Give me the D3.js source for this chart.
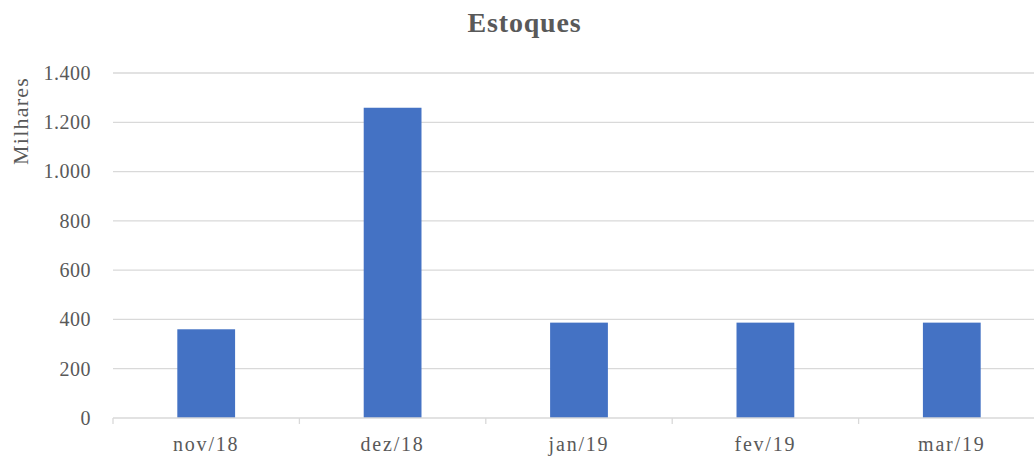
<!DOCTYPE html>
<html>
<head>
<meta charset="utf-8">
<script src="https://cdn.jsdelivr.net/npm/d3@7"></script>
<style>
  html, body { margin: 0; padding: 0; background: #fff; overflow: hidden; }
  svg { display: block; }
</style>
</head>
<body>
<svg id="chart" width="1034" height="457"></svg>
<script>
const categories = ["nov/18", "dez/18", "jan/19", "fev/19", "mar/19"];
const values = [360, 1259, 387, 387, 387];
const yTicks = [0, 200, 400, 600, 800, 1000, 1200, 1400];
const title = "Estoques";
const yAxisTitle = "Milhares";

(function () {
const svg = d3.select("#chart");
const font = "'Liberation Serif', 'DejaVu Serif', serif";
const textColor = "#595959";
const gridColor = "#d9d9d9";

const pLeft = 113, pRight = 1045, pTop = 73, pBottom = 418;

const x = d3.scaleBand().domain(categories).range([pLeft, pRight])
  .paddingInner(0.69).paddingOuter(0.345);
const y = d3.scaleLinear().domain([0, 1400]).range([pBottom, pTop]);

const fmt = v => d3.format(",")(v).replace(/,/g, ".");

// gridlines
svg.append("g").selectAll("line").data(yTicks.filter(t => t > 0)).join("line")
  .attr("x1", pLeft).attr("x2", pRight)
  .attr("y1", d => y(d)).attr("y2", d => y(d))
  .attr("stroke", gridColor).attr("stroke-width", 1.3);

// y labels
svg.append("g").selectAll("text").data(yTicks).join("text")
  .attr("x", 91).attr("y", d => y(d)).attr("dy", "0.34em")
  .attr("text-anchor", "end")
  .attr("font-family", font).attr("font-size", 20).attr("fill", textColor)
  .attr("letter-spacing", 0.5)
  .text(d => fmt(d));

// bars
svg.append("g").selectAll("rect").data(values).join("rect")
  .attr("x", (d, i) => x(categories[i]))
  .attr("width", x.bandwidth())
  .attr("y", d => y(d))
  .attr("height", d => y(0) - y(d))
  .attr("fill", "#4472C4");

// x axis
const xAxis = svg.append("g");
xAxis.append("line").attr("x1", pLeft).attr("x2", pRight)
  .attr("y1", pBottom).attr("y2", pBottom)
  .attr("stroke", gridColor).attr("stroke-width", 1.3);
const bounds = categories.map(c => x(c) - x.step() * x.paddingInner() / 2);
bounds.push(pRight);
xAxis.selectAll("line.tick").data(bounds).join("line").attr("class", "tick")
  .attr("x1", d => d).attr("x2", d => d)
  .attr("y1", pBottom).attr("y2", pBottom + 6)
  .attr("stroke", gridColor).attr("stroke-width", 1.3);
xAxis.selectAll("text").data(categories).join("text")
  .attr("x", d => x(d) + x.bandwidth() / 2).attr("y", 451)
  .attr("text-anchor", "middle")
  .attr("font-family", font).attr("font-size", 20).attr("fill", textColor)
  .attr("letter-spacing", 1.8)
  .text(d => d);

// title
svg.append("text").attr("x", 524.5).attr("y", 32)
  .attr("text-anchor", "middle")
  .attr("font-family", font).attr("font-size", 28).attr("font-weight", "bold")
  .attr("letter-spacing", 0.8)
  .attr("fill", textColor).text(title);

// y axis title
svg.append("text")
  .attr("transform", "translate(28,121) rotate(-90)")
  .attr("text-anchor", "middle")
  .attr("font-family", font).attr("font-size", 22).attr("fill", textColor)
  .attr("letter-spacing", 1.2)
  .text(yAxisTitle);
})();
</script>
</body>
</html>
